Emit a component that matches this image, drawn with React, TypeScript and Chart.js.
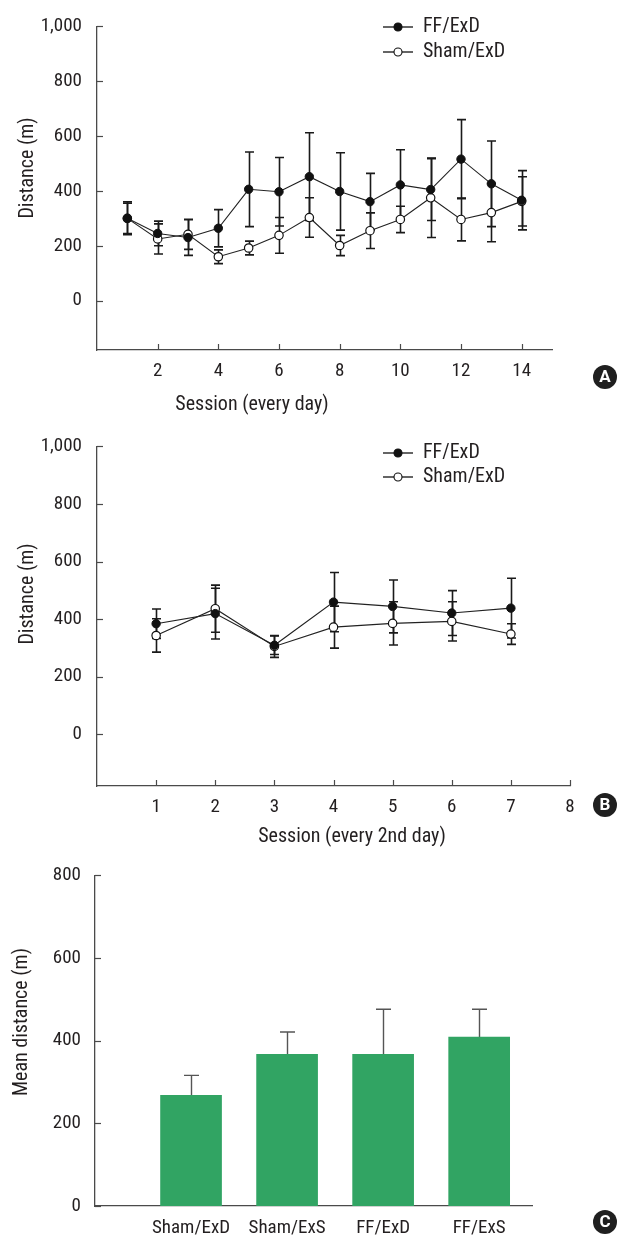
import React, { useEffect, useRef } from 'react';
import { Chart, registerables } from 'chart.js';
Chart.register(...registerables);

const FONT = "'Roboto Condensed', 'Open Sans', sans-serif";
const FS = 19;
const FS_TITLE = 20;
const TEXT = '#231f20';
const AXIS = '#4a4a4a';
const BAR_GREEN = '#31a463';

// ---------- Panel A (every day) ----------
const sessionsA = [1, 2, 3, 4, 5, 6, 7, 8, 9, 10, 11, 12, 13, 14];
const ffA = [300, 245, 230, 264, 406, 397, 452, 398, 361, 422, 405, 516, 426, 366];
const ffAErr = [60, 45, 65, 68, 136, 125, 160, 141, 103, 128, 113, 144, 156, 108];
const shamA = [300, 225, 242, 160, 192, 238, 303, 201, 255, 296, 375, 296, 321, 362];
const shamAErr = [55, 55, 55, 25, 25, 65, 72, 37, 65, 48, 145, 78, 106, 90];
const xTicksA = [2, 4, 6, 8, 10, 12, 14];

// ---------- Panel B (every 2nd day) ----------
const sessionsB = [1, 2, 3, 4, 5, 6, 7];
const ffB = [384, 419, 309, 459, 444, 421, 438];
const ffBErr = [51, 88, 32, 103, 92, 78, 104];
const shamB = [343, 436, 305, 372, 385, 392, 348];
const shamBErr = [58, 82, 38, 73, 75, 68, 36];
const xTicksB = [1, 2, 3, 4, 5, 6, 7, 8];

const yTicksAB = [0, 200, 400, 600, 800, 1000];

// ---------- Panel C (mean distance) ----------
const groupsC = ['Sham/ExD', 'Sham/ExS', 'FF/ExD', 'FF/ExS'];
const meanC = [268, 367, 367, 409];
const errC = [48, 54, 109, 67];
const yTicksC = [0, 200, 400, 600, 800];

const seriesNames = ['FF/ExD', 'Sham/ExD'];

const errorBarPlugin = {
  id: 'errorBars',
  beforeDatasetsDraw(chart: any) {
    const ctx = chart.ctx;
    chart.data.datasets.forEach((ds: any, i: number) => {
      if (!ds.errors) return;
      const meta = chart.getDatasetMeta(i);
      const yScale = chart.scales[meta.yAxisID];
      ctx.save();
      ctx.strokeStyle = ds.errorColor || '#1a1a1a';
      ctx.lineWidth = ds.errorWidth || 1.6;
      const cap = ds.errorCap || 4.5;
      meta.data.forEach((el: any, j: number) => {
        const raw = ds.data[j];
        const v = typeof raw === 'number' ? raw : raw.y;
        const e = ds.errors[j];
        const x = Math.round(el.x) + 0.5;
        const yT = yScale.getPixelForValue(v + e);
        const yB = ds.errorUpOnly ? yScale.getPixelForValue(v) : yScale.getPixelForValue(v - e);
        ctx.beginPath();
        ctx.moveTo(x, yT);
        ctx.lineTo(x, yB);
        ctx.moveTo(x - cap, yT);
        ctx.lineTo(x + cap, yT);
        if (!ds.errorUpOnly) {
          ctx.moveTo(x - cap, yB);
          ctx.lineTo(x + cap, yB);
        }
        ctx.stroke();
      });
      ctx.restore();
    });
  },
};

const decoPlugin = {
  id: 'deco',
  afterDraw(chart: any, _args: any, opts: any) {
    const ctx = chart.ctx;
    const area = chart.chartArea;
    ctx.save();
    ctx.strokeStyle = AXIS;
    ctx.lineWidth = 1.2;
    if (opts.yTickMarks) {
      const ys = chart.scales.y;
      ys.ticks.forEach((t: any) => {
        const p = Math.round(ys.getPixelForValue(t.value)) + 0.5;
        ctx.beginPath();
        ctx.moveTo(area.left, p);
        ctx.lineTo(area.left + 6, p);
        ctx.stroke();
      });
    }
    if (opts.xTickMarks) {
      const xs = chart.scales.x;
      xs.ticks.forEach((t: any) => {
        const p = Math.round(xs.getPixelForValue(t.value)) + 0.5;
        ctx.beginPath();
        ctx.moveTo(p, area.bottom);
        ctx.lineTo(p, area.bottom - 6);
        ctx.stroke();
      });
    }
    ctx.fillStyle = TEXT;
    ctx.font = `${FS_TITLE}px ${FONT}`;
    ctx.textAlign = 'center';
    ctx.textBaseline = 'middle';
    if (opts.xTitle) {
      ctx.fillText(opts.xTitle.text, opts.xTitle.x, opts.xTitle.y);
    }
    if (opts.yTitle) {
      ctx.save();
      ctx.translate(opts.yTitle.x, opts.yTitle.y);
      ctx.rotate(-Math.PI / 2);
      ctx.fillText(opts.yTitle.text, 0, 0);
      ctx.restore();
    }
    if (opts.legend) {
      const lg = opts.legend;
      lg.items.forEach((name: string, i: number) => {
        const y = lg.y + i * lg.gap;
        ctx.strokeStyle = '#111';
        ctx.lineWidth = 1.3;
        ctx.beginPath();
        ctx.moveTo(lg.x, y);
        ctx.lineTo(lg.x + 30, y);
        ctx.stroke();
        ctx.beginPath();
        ctx.arc(lg.x + 15, y, 4, 0, Math.PI * 2);
        ctx.fillStyle = i === 0 ? '#111' : '#fff';
        ctx.fill();
        ctx.lineWidth = 1.1;
        ctx.stroke();
        ctx.fillStyle = TEXT;
        ctx.textAlign = 'left';
        ctx.fillText(name, lg.x + 40, y);
      });
    }
    if (opts.badge) {
      const b = opts.badge;
      ctx.beginPath();
      ctx.arc(b.x, b.y, 12, 0, Math.PI * 2);
      ctx.fillStyle = '#1f1f1f';
      ctx.fill();
      ctx.fillStyle = '#fff';
      ctx.textAlign = 'center';
      ctx.font = `bold 17px 'Roboto', 'Liberation Sans', sans-serif`;
      ctx.fillText(b.letter, b.x, b.y + 1);
    }
    ctx.restore();
  },
};

const fmt = (v: any) => Number(v).toLocaleString('en-US');

function lineConfig(
  sessions: number[], ff: number[], ffErr: number[], sham: number[], shamErr: number[],
  xTicks: number[], xMax: number, areaTop: number, areaRightPad: number, xAxisHeight: number, deco: any
) {
  return {
    type: 'line',
    data: {
      datasets: [
        {
          label: seriesNames[0],
          data: sessions.map((s, i) => ({ x: s, y: ff[i] })),
          errors: ffErr,
          borderColor: '#222',
          borderWidth: 1.1,
          pointRadius: 4.2,
          pointBackgroundColor: '#111',
          pointBorderColor: '#111',
          pointBorderWidth: 1,
        },
        {
          label: seriesNames[1],
          data: sessions.map((s, i) => ({ x: s, y: sham[i] })),
          errors: shamErr,
          borderColor: '#222',
          borderWidth: 1.1,
          pointRadius: 4.2,
          pointBackgroundColor: '#fff',
          pointBorderColor: '#111',
          pointBorderWidth: 1.2,
        },
      ],
    },
    options: {
      animation: false,
      responsive: false,
      devicePixelRatio: 1,
      layout: { padding: { top: areaTop, right: areaRightPad, left: 0, bottom: 0 } },
      plugins: { legend: { display: false }, tooltip: { enabled: false }, deco },
      scales: {
        x: {
          type: 'linear',
          min: 0,
          max: xMax,
          afterBuildTicks: (s: any) => { s.ticks = xTicks.map((v) => ({ value: v })); },
          afterFit: (s: any) => { s.height = xAxisHeight; },
          grid: { display: false, drawTicks: false },
          border: { display: true, color: AXIS, width: 1.3 },
          ticks: { color: TEXT, font: { size: FS, family: FONT }, padding: 10, maxRotation: 0 },
        },
        y: {
          type: 'linear',
          min: -180,
          max: 1000,
          afterBuildTicks: (s: any) => { s.ticks = yTicksAB.map((v) => ({ value: v })); },
          afterFit: (s: any) => { s.width = 97; },
          grid: { display: false, drawTicks: false },
          border: { display: true, color: AXIS, width: 1.3 },
          ticks: { color: TEXT, font: { size: FS, family: FONT }, padding: 15, callback: fmt },
        },
      },
    },
    plugins: [errorBarPlugin, decoPlugin],
  };
}

function barConfig() {
  return {
    type: 'bar',
    data: {
      datasets: [
        {
          label: 'Mean distance',
          data: groupsC.map((_, i) => ({ x: i + 1, y: meanC[i] })),
          errors: errC,
          errorUpOnly: true,
          errorColor: '#555',
          errorWidth: 1.4,
          errorCap: 7.5,
          backgroundColor: BAR_GREEN,
          borderWidth: 0,
          barThickness: 61,
        },
      ],
    },
    options: {
      animation: false,
      responsive: false,
      devicePixelRatio: 1,
      layout: { padding: { top: 10, right: 88, left: 0, bottom: 0 } },
      plugins: {
        legend: { display: false },
        tooltip: { enabled: false },
        deco: {
          yTickMarks: true,
          yTitle: { text: 'Mean distance (m)', x: 22, y: 172 },
          badge: { letter: 'C', x: 605, y: 372 },
        },
      },
      scales: {
        x: {
          type: 'linear',
          min: 0,
          max: 4.55,
          offset: false,
          afterBuildTicks: (s: any) => { s.ticks = groupsC.map((_, i) => ({ value: i + 1 })); },
          afterFit: (s: any) => { s.height = 388 - 356; },
          grid: { display: false, drawTicks: false, offset: false },
          border: { display: true, color: AXIS, width: 1.3 },
          ticks: {
            color: TEXT,
            font: { size: FS, family: FONT },
            padding: 11,
            maxRotation: 0,
            autoSkip: false,
            callback: (v: any) => groupsC[Number(v) - 1] ?? '',
          },
        },
        y: {
          type: 'linear',
          min: 0,
          max: 800,
          afterBuildTicks: (s: any) => { s.ticks = yTicksC.map((v) => ({ value: v })); },
          afterFit: (s: any) => { s.width = 95; },
          grid: { display: false, drawTicks: false },
          border: { display: true, color: AXIS, width: 1.3 },
          ticks: { color: TEXT, font: { size: FS, family: FONT }, padding: 14, callback: fmt },
        },
      },
    },
    plugins: [errorBarPlugin, decoPlugin],
  };
}

function ChartCanvas({ top, height, makeConfig }: { top: number; height: number; makeConfig: () => any }) {
  const ref = useRef<HTMLCanvasElement | null>(null);
  useEffect(() => {
    if (!ref.current) return;
    const chart = new Chart(ref.current, makeConfig());
    return () => chart.destroy();
  }, []);
  return (
    <div style={{ position: 'absolute', left: 0, top, width: 620, height }}>
      <canvas ref={ref} width={620} height={height} style={{ display: 'block', width: 620, height }} />
    </div>
  );
}

export default function App() {
  Chart.defaults.font.family = FONT;
  return (
    <div style={{ position: 'absolute', left: 0, top: 0, width: 620, height: 1238, background: '#fff', overflow: 'hidden' }}>
      <ChartCanvas
        top={0}
        height={420}
        makeConfig={() =>
          lineConfig(sessionsA, ffA, ffAErr, shamA, shamAErr, xTicksA, 15, 19, 68, 70, {
            xTickMarks: true,
            yTickMarks: true,
            xTitle: { text: 'Session (every day)', x: 252, y: 405 },
            yTitle: { text: 'Distance (m)', x: 28, y: 168 },
            legend: { items: seriesNames, x: 383, y: 27, gap: 25 },
            badge: { letter: 'A', x: 605, y: 377 },
          })
        }
      />
      <ChartCanvas
        top={420}
        height={430}
        makeConfig={() =>
          lineConfig(sessionsB, ffB, ffBErr, shamB, shamBErr, xTicksB, 8, 24, 50, 64, {
            xTickMarks: true,
            yTickMarks: true,
            xTitle: { text: 'Session (every 2nd day)', x: 352, y: 417 },
            yTitle: { text: 'Distance (m)', x: 28, y: 174 },
            legend: { items: seriesNames, x: 383, y: 33, gap: 24 },
            badge: { letter: 'B', x: 605, y: 385 },
          })
        }
      />
      <ChartCanvas top={850} height={388} makeConfig={barConfig} />
    </div>
  );
}
